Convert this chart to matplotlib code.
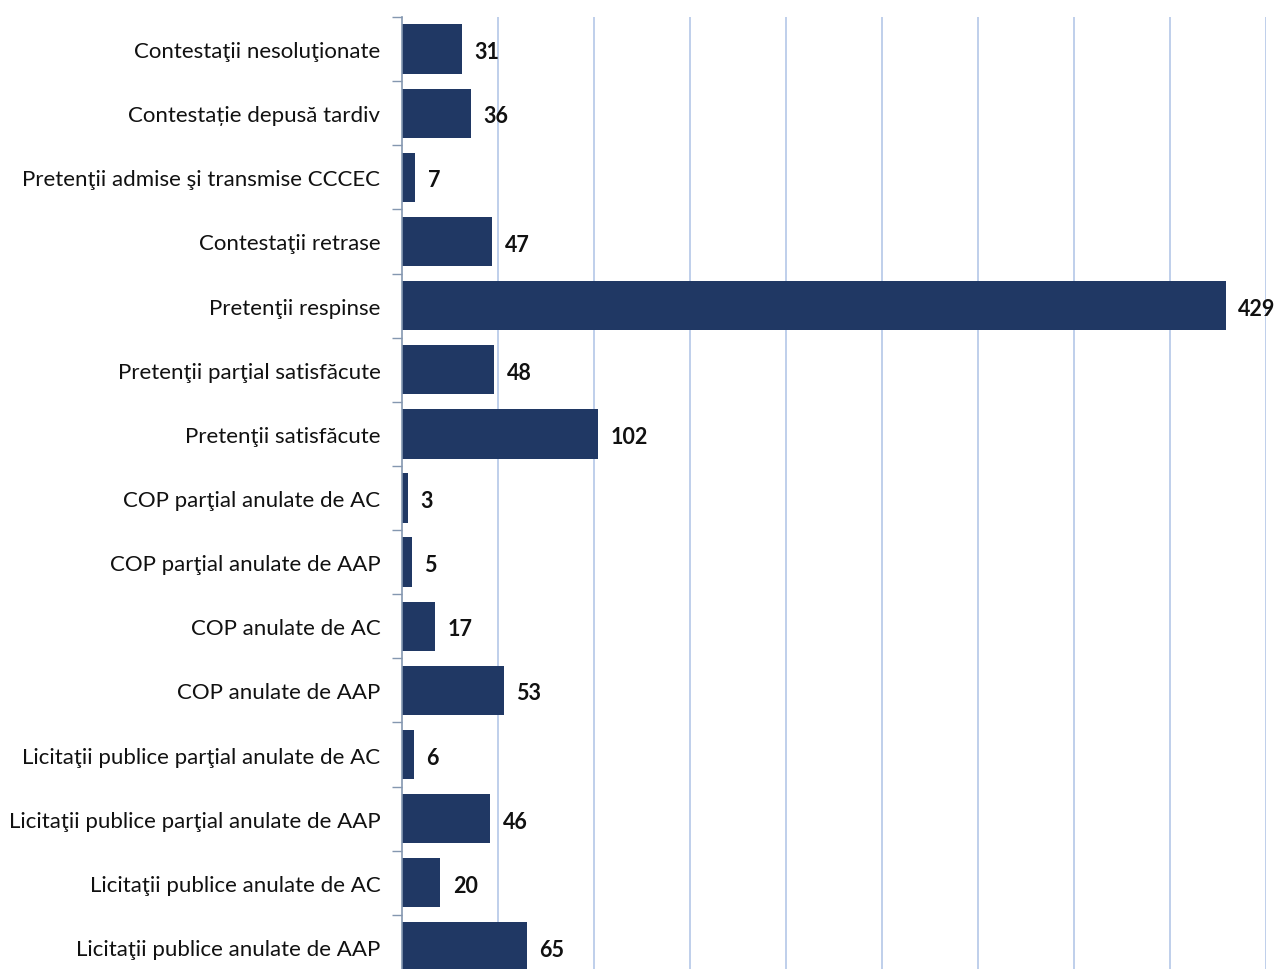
import matplotlib
matplotlib.use("Agg")
import matplotlib.pyplot as plt

categories = [
    "Contestaţii nesoluţionate",
    "Contestație depusă tardiv",
    "Pretenţii admise şi transmise CCCEC",
    "Contestaţii retrase",
    "Pretenţii respinse",
    "Pretenţii parţial satisfăcute",
    "Pretenţii satisfăcute",
    "COP parţial anulate de AC",
    "COP parţial anulate de AAP",
    "COP anulate de AC",
    "COP anulate de AAP",
    "Licitaţii publice parţial anulate de AC",
    "Licitaţii publice parţial anulate de AAP",
    "Licitaţii publice anulate de AC",
    "Licitaţii publice anulate de AAP",
]
values = [31, 36, 7, 47, 429, 48, 102, 3, 5, 17, 53, 6, 46, 20, 65]

plt.rcParams['font.family'] = ['Lato', 'DejaVu Sans']

W, H = 1278, 970
fig = plt.figure(figsize=(W / 100, H / 100), dpi=100)
left = 402 / W
right = 1266 / W
top = 1 - 18 / H
bottom = -10 / H
ax = fig.add_axes([left, bottom, right - left, top - bottom])

n = len(categories)
pos = list(range(n))
ax.barh(pos, values, height=0.77, color="#203864", zorder=3)
ax.set_ylim(n - 0.5, -0.5)
ax.set_xlim(0, 450)

ax.set_xticks(range(50, 451, 50))
ax.xaxis.grid(True, color="#B4C7E7", linewidth=1.2, zorder=0)
ax.tick_params(axis="x", bottom=False, labelbottom=False)

# y ticks: category labels at centers, tick marks at boundaries
ax.set_yticks(pos)
ax.set_yticklabels(categories, fontsize=16, color="#111111")
ax.tick_params(axis="y", which="major", length=0, pad=15.5)
ax.set_yticks([i - 0.5 for i in range(n + 1)], minor=True)
ax.tick_params(axis="y", which="minor", length=7, width=1, color="#8497B0", direction="out")

for s in ["top", "right", "bottom"]:
    ax.spines[s].set_visible(False)
ax.spines["left"].set_color("#8497B0")
ax.spines["left"].set_linewidth(1.2)
ax.spines["left"].set_zorder(4)

for i, v in enumerate(values):
    ax.text(v + 6.5, i + 0.04, str(v), va="center", ha="left", fontsize=15.5,
            fontweight="bold", color="#111111", clip_on=False)

fig.savefig("out.png", dpi=100)
